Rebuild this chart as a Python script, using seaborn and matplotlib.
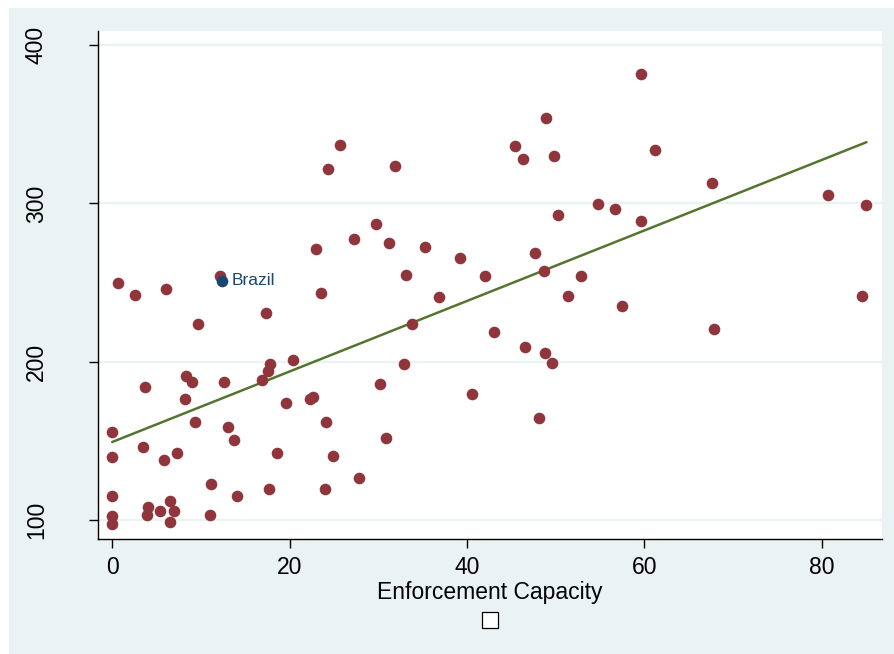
import matplotlib
matplotlib.use("Agg")
import matplotlib.pyplot as plt
import matplotlib.patches as mpatches
import seaborn as sns
import pandas as pd
import numpy as np

# ---- data ----
enforcement = [0, 0, 0, 0, 0, 0.6, 2.56, 3.72, 3.46, 4.02, 3.95, 5.38, 5.8, 6.09,
               6.5, 6.92, 6.54, 7.33, 8.23, 8.27, 9.02, 9.29, 9.7, 11.13, 11.05,
               12.1, 12.56, 13.08, 13.69, 14.06, 16.88, 17.29, 17.55, 17.85, 17.67,
               18.53, 19.62, 20.4, 22.29, 22.6, 22.97, 23.49, 24.06, 24.0, 24.32,
               24.88, 25.67, 27.25, 27.85, 29.76, 30.2, 30.9, 31.16, 31.9, 32.92,
               33.11, 33.75, 35.29, 36.87, 39.17, 40.52, 42.05, 43.07, 45.37, 46.34,
               46.56, 47.69, 48.1, 48.7, 48.75, 48.93, 49.6, 49.83, 50.28, 51.37,
               52.84, 54.79, 56.71, 57.46, 59.64, 59.68, 61.18, 67.61, 67.91, 80.66,
               84.52, 85.05]
outcome = [155.3, 139.7, 115.2, 102.7, 97.5, 249.8, 242.4, 184, 146.2, 108.2, 103.2,
           105.9, 138, 246.2, 111.8, 105.5, 98.7, 142.2, 176.4, 191.1, 187.3, 162,
           223.6, 122.6, 103, 254.4, 187.3, 159, 150.4, 115, 188.2, 231, 194.3, 198.7,
           119.4, 142.2, 174, 201.1, 176.4, 178, 271.3, 243.7, 162.2, 119.4, 321.5,
           140.3, 336.9, 277.2, 126.8, 287.1, 185.6, 151.6, 274.9, 323.4, 198.5,
           254.6, 224, 272.2, 241, 265.4, 179.3, 254.2, 218.5, 336.3, 328.3, 209.3,
           268.6, 164.7, 257, 205.5, 353.8, 199.2, 330, 292.6, 241.6, 254, 299.8,
           296.2, 235.4, 381.9, 289, 333.7, 312.9, 220.9, 305.1, 241.6, 298.9]
highlight_name = ["Brazil"]
highlight_x = [12.37]
highlight_y = [251.1]

x_ticks = [0, 20, 40, 60, 80]
y_ticks = [100, 200, 300, 400]
x_label = "Enforcement Capacity"

# ---- style ----
BG = "#EAF2F3"
MAROON = "#90353B"
NAVY = "#1A476F"
GREEN = "#55752F"

sns.set_theme(style="white")
plt.rcParams["font.family"] = ["Liberation Sans", "DejaVu Sans"]

fig = plt.figure(figsize=(8.95, 6.54), dpi=100, facecolor="white")
W, H = 895, 654
fig.patches.append(mpatches.Rectangle((9 / W, 0), 1 - 9 / W, 1 - 8 / H,
                                      transform=fig.transFigure, facecolor=BG,
                                      edgecolor="none", zorder=-10))

ax = fig.add_axes([98 / W, 1 - 539 / H, (882 - 98) / W, (539 - 31) / H])
ax.set_facecolor("white")

all_x = enforcement + highlight_x
all_y = outcome + highlight_y
df = pd.DataFrame({"x": all_x, "y": all_y})
sns.regplot(data=df, x="x", y="y", scatter=False, ci=None, ax=ax,
            line_kws={"color": GREEN, "linewidth": 1.8, "zorder": 2})

pts = pd.DataFrame({"x": enforcement, "y": outcome})
sns.scatterplot(data=pts, x="x", y="y", ax=ax, color=MAROON, s=70,
                linewidth=0, zorder=3, legend=False)
hl = pd.DataFrame({"x": highlight_x, "y": highlight_y, "name": highlight_name})
sns.scatterplot(data=hl, x="x", y="y", ax=ax, color=NAVY, s=70,
                linewidth=0, zorder=4, legend=False)
for _, r in hl.iterrows():
    ax.annotate(r["name"], (r["x"], r["y"]), xytext=(7, 0),
                textcoords="offset points", va="center", ha="left",
                color=NAVY, fontsize=12.5, zorder=5)

ax.set_xlim(-1.6, 86.8)
ax.set_ylim(88, 408.9)
ax.set_xticks(x_ticks)
ax.set_yticks(y_ticks)
ax.set_xticklabels([str(t) for t in x_ticks])
ax.set_yticklabels([str(t) for t in y_ticks], rotation=90, va="center")

ax.grid(axis="y", color=BG, linewidth=1.6)
ax.grid(axis="x", visible=False)
ax.set_axisbelow(True)

for side in ["top", "right"]:
    ax.spines[side].set_visible(False)
for side in ["left", "bottom"]:
    ax.spines[side].set_visible(True)
    ax.spines[side].set_color("black")
    ax.spines[side].set_linewidth(1.0)

ax.tick_params(axis="both", which="major", direction="out", length=6.5,
               width=1.0, color="black", labelcolor="black", labelsize=16.5,
               left=True, bottom=True)
ax.tick_params(axis="y", pad=29.5)
ax.tick_params(axis="x", pad=6)

ax.set_xlabel(x_label, fontsize=16.5, color="black", labelpad=1)
ax.set_ylabel("")

# empty legend key box
fig.patches.append(mpatches.Rectangle((482 / W, 1 - 628 / H), 16 / W, 16 / H,
                                      transform=fig.transFigure, facecolor="white",
                                      edgecolor="black", linewidth=0.9, zorder=5))

fig.savefig("out.png", dpi=100, facecolor="white")
